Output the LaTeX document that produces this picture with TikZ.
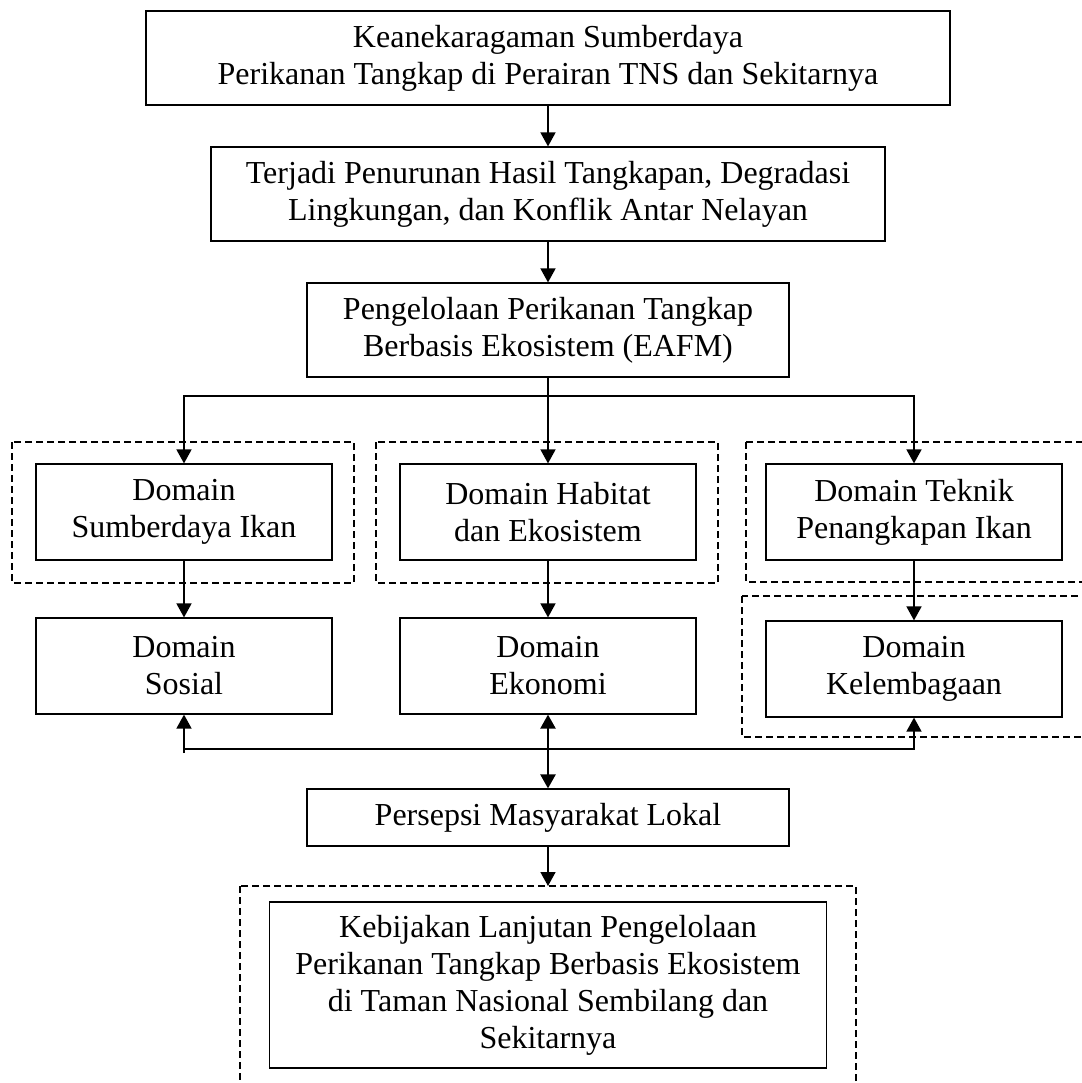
\documentclass[tikz,border=0pt]{standalone}
\usepackage{fontspec}
\setmainfont{Liberation Serif}
\usetikzlibrary{arrows.meta}

\tikzset{
  kotak/.style={draw, line width=0.6pt, align=center, inner sep=0pt,
    font=\fontsize{16}{18.5}\selectfont},
  kotakdomain/.style={kotak, minimum width=148pt, minimum height=48pt},
  bingkai/.style={draw, line width=0.9pt, dash pattern=on 3.5pt off 2pt},
  panah/.style={-{Triangle[length=7pt,width=7.5pt]}, line width=0.8pt},
  panahdua/.style={{Triangle[length=7pt,width=7.5pt]}-{Triangle[length=7pt,width=7.5pt]}, line width=1.2pt},
}

\begin{document}
\begin{tikzpicture}[x=0.5pt, y=-0.5pt]
        \useasboundingbox (0,0) rectangle (1082,1083);

        %kotak bagian atas
        \node[kotak, minimum width=402pt, minimum height=47pt] (keragaman) at (548,58)
            {Keanekaragaman Sumberdaya\\Perikanan Tangkap di Perairan TNS dan Sekitarnya};
        \node[kotak, minimum width=337pt, minimum height=47pt] (penurunan) at (548,194)
            {Terjadi Penurunan Hasil Tangkapan, Degradasi\\Lingkungan, dan Konflik Antar Nelayan};
        \node[kotak, minimum width=241pt, minimum height=47pt] (eafm) at (548,330)
            {Pengelolaan Perikanan Tangkap\\Berbasis Ekosistem (EAFM)};

        %bingkai putus-putus
        \draw[bingkai] (12,442) rectangle (354,583);
        \draw[bingkai] (376,442) rectangle (718,583);
        \draw[bingkai] (746,442) rectangle (1110,582);
        \draw[bingkai] (742,596) rectangle (1110,737);
        \draw[bingkai] (240,886) rectangle (856,1110);

        %domain
        \node[kotakdomain] (dsumber) at (184,512) {Domain\\Sumberdaya Ikan};
        \node[kotakdomain] (dhabitat) at (548,512) {Domain Habitat\\dan Ekosistem};
        \node[kotakdomain] (dteknik) at (914,512) {Domain Teknik\\Penangkapan Ikan};
        \node[kotakdomain] (dsosial) at (184,666) {Domain\\Sosial};
        \node[kotakdomain] (dekonomi) at (548,666) {Domain\\Ekonomi};
        \node[kotakdomain] (dlembaga) at (914,669) {Domain\\Kelembagaan};

        %kotak bagian bawah
        \node[kotak, minimum width=241pt, minimum height=28.5pt] (persepsi) at (548,817.5)
            {Persepsi Masyarakat Lokal};
        \node[kotak, minimum width=278.5pt, minimum height=83pt] (kebijakan) at (548,985)
            {Kebijakan Lanjutan Pengelolaan\\Perikanan Tangkap Berbasis Ekosistem\\di Taman Nasional Sembilang dan\\Sekitarnya};

        \coordinate (busatas) at (548,396);
        \coordinate (busbawah) at (548,749);
        \coordinate (ujungkiri) at (184,753);
        \coordinate (fkebijakan) at (548,886);

        %panah
        \draw[panah] (keragaman) -- (penurunan);
        \draw[panah] (penurunan) -- (eafm);
        \draw[panah] (eafm) -- (dhabitat);
        \draw[panah] (eafm.south |- busatas) -| (dsumber.north);
        \draw[panah] (eafm.south |- busatas) -| (dteknik.north);
        \draw[panah] (dsumber) -- (dsosial);
        \draw[panah] (dhabitat) -- (dekonomi);
        \draw[panah] (dteknik) -- (dlembaga);

        \draw[panah] (dsosial.south |- busbawah) -| (dlembaga.south);
        \draw[panah] (ujungkiri) -- (dsosial.south);
        \draw[panahdua] (dekonomi) -- (persepsi);
        \draw[panah] (persepsi) -- (fkebijakan);
    \end{tikzpicture}
\end{document}
